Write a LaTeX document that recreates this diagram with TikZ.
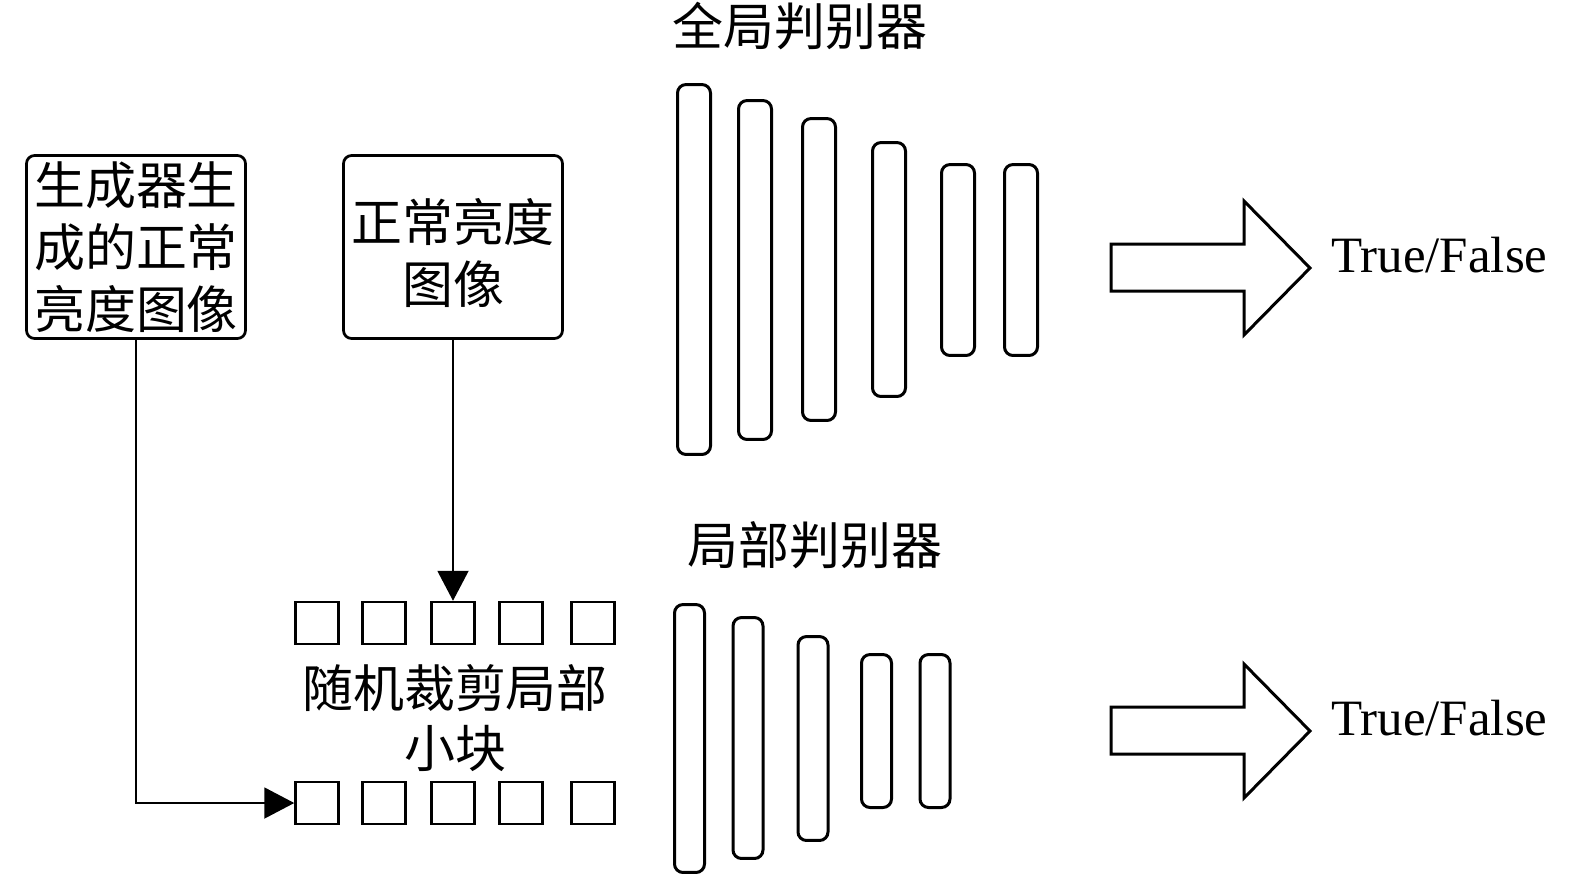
\documentclass[tikz,border=0pt]{standalone}
\usepackage{fontspec}
\setmainfont{Liberation Serif}
\newfontfamily\cjk{Noto Sans CJK SC}
\usetikzlibrary{arrows.meta}
\begin{document}
\begin{tikzpicture}[x=0.02cm,y=-0.02cm,
  cjktext/.style={font=\cjk\fontsize{29pt}{35.3pt}\selectfont, inner sep=0pt, align=center},
  inbox/.style={draw, line width=0.055cm, rounded corners=0.16cm, minimum width=4.38cm, minimum height=3.66cm, inner sep=0pt, cjktext},
  patch/.style={draw, line width=0.05cm, minimum width=0.86cm, minimum height=0.84cm, inner sep=0pt},
  bar/.style={draw, line width=0.06cm, rounded corners=0.17cm, minimum width=0.66cm, inner sep=0pt},
  conn/.style={draw, line width=0.04cm, -{Triangle[length=0.6cm,width=0.62cm]}},
  blockarrow/.style={draw, line width=0.06cm, line join=miter},
  tf/.style={font=\fontsize{29pt}{34pt}\selectfont, inner sep=0pt, anchor=base west}
]
\useasboundingbox (0,0) rectangle (1575,877);

% input boxes
\node[inbox] (box1) at (136,247) {生成器生\\成的正常\\亮度图像};
\node[inbox] (box2) at (453,247) {};
\node[cjktext] (box2text) at (453,253) {正常亮度\\图像};

% patches
\node[patch] (t1) at (317,623) {};
\node[patch] (t2) at (384,623) {};
\node[patch] (t3) at (453,623) {};
\node[patch] (t4) at (521,623) {};
\node[patch] (t5) at (593,623) {};
\node[patch] (b1) at (317,803) {};
\node[patch] (b2) at (384,803) {};
\node[patch] (b3) at (453,803) {};
\node[patch] (b4) at (521,803) {};
\node[patch] (b5) at (593,803) {};
\node[cjktext, font=\cjk\fontsize{29pt}{34.1pt}\selectfont] (crop) at (455,718) {随机裁剪局部\\小块};

% connectors
\draw[conn] (box2.south) -- (t3.north);
\draw[conn] (box1.south) |- (b1.west);

% global discriminator
\node[cjktext] (gl) at (800,26) {全局判别器};
\node[bar, minimum height=7.4cm] (g1) at (694,269.5) {};
\node[bar, minimum height=6.78cm] (g2) at (755,270) {};
\node[bar, minimum height=6.04cm] (g3) at (819,269.5) {};
\node[bar, minimum height=5.08cm] (g4) at (889,269.5) {};
\node[bar, minimum height=3.82cm] (g5) at (958,260) {};
\node[bar, minimum height=3.82cm] (g6) at (1021,260) {};

% local discriminator
\node[cjktext] (ll) at (815,545) {局部判别器};
\node[bar, minimum height=5.36cm, minimum width=0.6cm] (l1) at (689.5,738.5) {};
\node[bar, minimum height=4.82cm, minimum width=0.6cm] (l2) at (748,738) {};
\node[bar, minimum height=4.08cm, minimum width=0.6cm] (l3) at (813,738.5) {};
\node[bar, minimum height=3.06cm, minimum width=0.6cm] (l4) at (876.5,731) {};
\node[bar, minimum height=3.06cm, minimum width=0.6cm] (l5) at (935,731) {};

% output arrows
\draw[blockarrow] (1111,244) -- (1244,244) -- (1244,201) -- (1310,268) -- (1244,335) -- (1244,291) -- (1111,291) -- cycle;
\draw[blockarrow] (1111,707) -- (1244,707) -- (1244,664) -- (1310,731) -- (1244,798) -- (1244,754) -- (1111,754) -- cycle;
\node[tf] (o1) at (1331,272) {True/False};
\node[tf] (o2) at (1331,735) {True/False};
\end{tikzpicture}
\end{document}
